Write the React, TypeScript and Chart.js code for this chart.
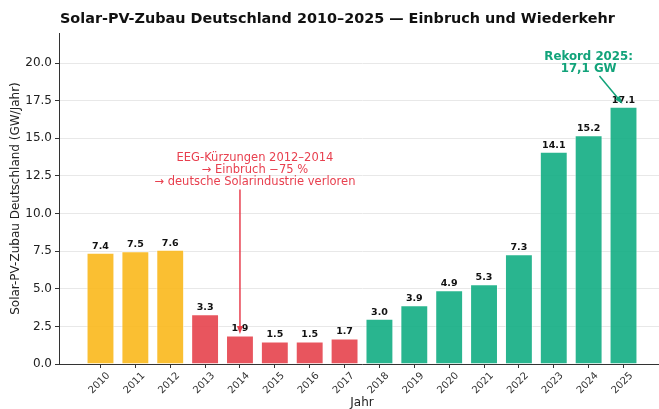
import React, { useEffect, useRef } from 'react';
import { Chart, registerables } from 'chart.js';

Chart.register(...registerables);

const years = ['2010','2011','2012','2013','2014','2015','2016','2017','2018','2019','2020','2021','2022','2023','2024','2025'];
const values = [7.4, 7.5, 7.6, 3.3, 1.9, 1.5, 1.5, 1.7, 3.0, 3.9, 4.9, 5.3, 7.3, 14.1, 15.2, 17.1];
const phases = ['boom','boom','boom','crash','crash','crash','crash','crash','rise','rise','rise','rise','rise','rise','rise','rise'];
const phaseColors: Record<string, string> = {
  boom: 'rgba(250,184,28,0.9)',
  crash: 'rgba(229,66,77,0.9)',
  rise: 'rgba(18,173,131,0.9)',
};
const yTicks = [0, 2.5, 5, 7.5, 10, 12.5, 15, 17.5, 20];

const titleText = 'Solar-PV-Zubau Deutschland 2010–2025 — Einbruch und Wiederkehr';
const crashLines = ['EEG-Kürzungen 2012–2014', '→ Einbruch −75 %', '→ deutsche Solarindustrie verloren'];
const crashTextAt = { x: 4.43, y: 12.9 };
const crashArrowFrom = { x: 4, y: 11.6 };
const crashArrowTo = { x: 4, y: 2.0 };
const recordLines = ['Rekord 2025:', '17,1 GW'];
const recordTextAt = { x: 14.0, y: 20.0 };
const recordArrowFrom = { x: 14.31, y: 19.14 };
const recordArrowTo = { x: 14.97, y: 17.3 };

const FONT = "'DejaVu Sans', sans-serif";

function arrow(ctx: CanvasRenderingContext2D, x1: number, y1: number, x2: number, y2: number, color: string) {
  const ang = Math.atan2(y2 - y1, x2 - x1);
  const hl = 8, hw = 3;
  ctx.save();
  ctx.strokeStyle = color;
  ctx.fillStyle = color;
  ctx.lineWidth = 1.5;
  ctx.beginPath();
  ctx.moveTo(x1, y1);
  ctx.lineTo(x2 - Math.cos(ang) * hl * 0.8, y2 - Math.sin(ang) * hl * 0.8);
  ctx.stroke();
  ctx.beginPath();
  ctx.moveTo(x2, y2);
  ctx.lineTo(x2 - Math.cos(ang) * hl - Math.sin(ang) * hw, y2 - Math.sin(ang) * hl + Math.cos(ang) * hw);
  ctx.lineTo(x2 - Math.cos(ang) * hl + Math.sin(ang) * hw, y2 - Math.sin(ang) * hl - Math.cos(ang) * hw);
  ctx.closePath();
  ctx.fill();
  ctx.restore();
}

const overlay = {
  id: 'overlay',
  afterDatasetsDraw(chart: any) {
    const ctx: CanvasRenderingContext2D = chart.ctx;
    const xs = chart.scales.x, ys = chart.scales.y;
    ctx.save();
    ctx.font = `bold 9.5px ${FONT}`;
    ctx.fillStyle = '#111';
    ctx.textAlign = 'center';
    ctx.textBaseline = 'alphabetic';
    values.forEach((v, i) => {
      ctx.fillText(v.toFixed(1), xs.getPixelForValue(i), ys.getPixelForValue(v) - 4);
    });
    const red = '#e8404f';
    ctx.font = `11.5px ${FONT}`;
    ctx.fillStyle = red;
    ctx.textBaseline = 'middle';
    const cx = xs.getPixelForValue(crashTextAt.x), cy = ys.getPixelForValue(crashTextAt.y);
    crashLines.forEach((l, i) => ctx.fillText(l, cx, cy + (i - 1) * 11.7));
    arrow(ctx, xs.getPixelForValue(crashArrowFrom.x), ys.getPixelForValue(crashArrowFrom.y),
      xs.getPixelForValue(crashArrowTo.x), ys.getPixelForValue(crashArrowTo.y), red);
    const green = '#12a37a';
    ctx.font = `bold 11.8px ${FONT}`;
    ctx.fillStyle = green;
    const gx = xs.getPixelForValue(recordTextAt.x), gy = ys.getPixelForValue(recordTextAt.y);
    recordLines.forEach((l, i) => ctx.fillText(l, gx, gy + (i - 0.5) * 12));
    arrow(ctx, xs.getPixelForValue(recordArrowFrom.x), ys.getPixelForValue(recordArrowFrom.y),
      xs.getPixelForValue(recordArrowTo.x), ys.getPixelForValue(recordArrowTo.y), green);
    ctx.font = `bold 14.4px ${FONT}`;
    ctx.fillStyle = '#111';
    ctx.textAlign = 'left';
    ctx.fillText(titleText, 60, 19);
    ctx.restore();
  },
};

export default function App() {
  const ref = useRef<HTMLCanvasElement>(null);
  useEffect(() => {
    document.body.style.margin = '0';
    document.documentElement.style.overflow = 'hidden';
    const chart = new Chart(ref.current!, {
      type: 'bar',
      data: {
        datasets: [{
          data: values.map((v, i) => ({ x: i, y: v })),
          backgroundColor: phases.map((p) => phaseColors[p]),
          borderColor: 'rgba(255,255,255,0.6)',
          borderWidth: 1,
          categoryPercentage: 1,
          barPercentage: 0.8,
        }],
      },
      options: {
        responsive: false,
        animation: false,
        layout: { padding: { top: 33, right: 0, left: 0, bottom: 0 } },
        plugins: { legend: { display: false }, tooltip: { enabled: false }, title: { display: false } },
        scales: {
          x: {
            type: 'linear',
            offset: false,
            min: -1.19,
            max: 16.19,
            afterBuildTicks: (s: any) => { s.ticks = years.map((_, i) => ({ value: i })); },
            afterFit: (s: any) => { s.height = 45; },
            ticks: {
              autoSkip: false,
              maxRotation: 45,
              minRotation: 45,
              callback: (v: any) => years[v],
              font: { family: FONT, size: 10 },
              color: '#333',
              padding: 2,
              labelOffset: 8,
            },
            grid: { offset: false, drawOnChartArea: false, drawTicks: true, tickLength: 4, tickColor: '#333' },
            border: { display: true, color: '#333', width: 1 },
            title: { display: true, text: 'Jahr', font: { family: FONT, size: 12, lineHeight: 1 }, color: '#222', padding: { top: 0, bottom: 0 } },
          },
          y: {
            min: 0,
            max: 22,
            afterBuildTicks: (s: any) => { s.ticks = yTicks.map((v) => ({ value: v })); },
            afterFit: (s: any) => { s.width = 59; },
            ticks: {
              callback: (v: any) => Number(v).toFixed(1),
              font: { family: FONT, size: 12 },
              color: '#222',
              padding: 3,
            },
            grid: { color: '#e8e8e8', lineWidth: 1, drawTicks: true, tickLength: 4, tickColor: '#333' },
            border: { display: true, color: '#333', width: 1 },
            title: { display: true, text: 'Solar-PV-Zubau Deutschland (GW/Jahr)', font: { family: FONT, size: 12 }, color: '#222', padding: { top: 9, bottom: 0 } },
          },
        },
      },
      plugins: [overlay],
    } as any);
    return () => chart.destroy();
  }, []);
  return (
    <div style={{ width: 665, height: 409 }}>
      <canvas ref={ref} width={665} height={409} />
    </div>
  );
}
